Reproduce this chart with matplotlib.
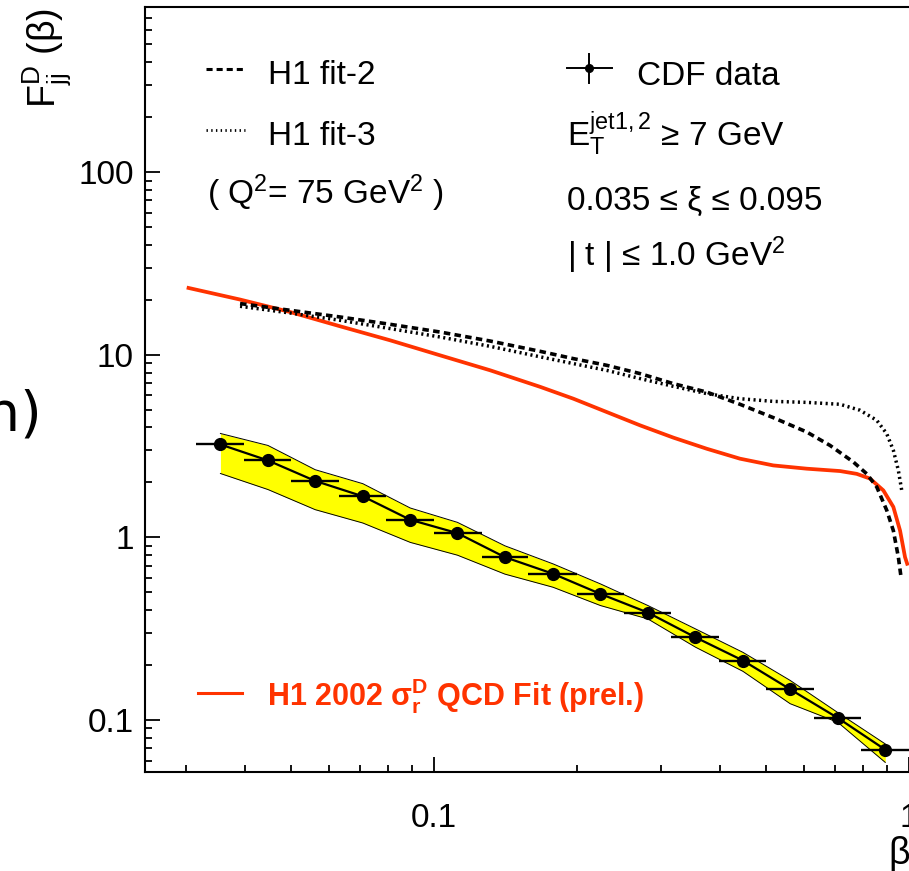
import matplotlib
matplotlib.use('Agg')
import matplotlib.pyplot as plt
import matplotlib.ticker as mticker
from matplotlib.lines import Line2D
import numpy as np

plt.rcParams['font.family'] = ['Liberation Sans', 'DejaVu Sans']
plt.rcParams['mathtext.fontset'] = 'custom'
plt.rcParams['mathtext.rm'] = 'Liberation Sans'
plt.rcParams['mathtext.it'] = 'Liberation Sans:italic'
plt.rcParams['mathtext.bf'] = 'Liberation Sans:bold'

# ---------------- data ----------------
# CDF data: beta bin centres, bin edges, values
cdf_beta = [0.0355, 0.0447, 0.0562, 0.0708, 0.0891, 0.112, 0.141, 0.178,
            0.224, 0.282, 0.355, 0.447, 0.562, 0.708, 0.891]
cdf_beta_lo = [0.0316, 0.0398, 0.0501, 0.0631, 0.0794, 0.100, 0.126, 0.158,
               0.200, 0.251, 0.316, 0.398, 0.501, 0.631, 0.794]
cdf_beta_hi = [0.0398, 0.0501, 0.0631, 0.0794, 0.100, 0.126, 0.158, 0.200,
               0.251, 0.316, 0.398, 0.501, 0.631, 0.794, 1.000]
cdf_val = [3.23, 2.64, 2.04, 1.68, 1.25, 1.056, 0.780, 0.633,
           0.491, 0.388, 0.284, 0.212, 0.1475, 0.1028, 0.0689]
band_hi = [3.71, 3.19, 2.35, 1.97, 1.45, 1.21, 0.90, 0.717,
           0.557, 0.424, 0.316, 0.235, 0.165, 0.110, 0.0741]
band_lo = [2.24, 1.83, 1.42, 1.20, 0.94, 0.80, 0.63, 0.534,
           0.424, 0.358, 0.251, 0.185, 0.123, 0.0973, 0.0587]

# H1 2002 QCD fit (red)
h1_2002_beta = [0.03015, 0.03905, 0.04975, 0.0634, 0.0808, 0.1029, 0.1312, 0.1672,
                0.1965, 0.2310, 0.2715, 0.3191, 0.3751, 0.4406, 0.5178, 0.6089,
                0.7157, 0.7760, 0.8278, 0.8829, 0.9267, 0.9574, 0.9808, 0.9938]
h1_2002_val = [23.35, 20.07, 17.16, 14.33, 12.01, 9.94, 8.23, 6.68,
               5.75, 4.86, 4.11, 3.52, 3.06, 2.70, 2.48, 2.38,
               2.31, 2.23, 2.10, 1.81, 1.47, 1.09, 0.780, 0.702]

# H1 fit-2 (dashed)
fit2_beta = [0.03905, 0.04975, 0.0634, 0.0808, 0.1029, 0.1312, 0.1672, 0.1965,
             0.2310, 0.2715, 0.3191, 0.3751, 0.4406, 0.5178, 0.6089, 0.6819,
             0.7633, 0.8147, 0.8551, 0.8974, 0.9268, 0.9495, 0.9620]
fit2_val = [19.08, 17.53, 16.11, 14.69, 13.33, 11.90, 10.45, 9.53,
            8.76, 7.89, 6.95, 6.25, 5.36, 4.53, 3.78, 3.19,
            2.59, 2.23, 1.89, 1.41, 1.09, 0.78, 0.606]

# H1 fit-3 (dotted)
fit3_beta = [0.03905, 0.04975, 0.0634, 0.0808, 0.1029, 0.1312, 0.1672, 0.1965,
             0.2310, 0.2715, 0.3191, 0.3751, 0.4406, 0.5178, 0.6089, 0.7157,
             0.7886, 0.8551, 0.8974, 0.9268, 0.9495, 0.9652]
fit3_val = [18.44, 16.94, 15.45, 13.92, 12.52, 11.13, 9.75, 8.95,
            8.22, 7.41, 6.72, 6.13, 5.75, 5.56, 5.49, 5.36,
            4.97, 4.38, 3.70, 3.00, 2.33, 1.81]

y_ticks = [0.1, 1, 10, 100]
x_ticks = [0.1, 1]

RED = '#ff3300'
YELLOW = '#ffff00'

# ---------------- figure ----------------
W, H = 909, 871
fig = plt.figure(figsize=(W / 100, H / 100), dpi=100)


def fx(px):
    return px / W


def fy(py):
    return 1 - py / H


ax = fig.add_axes([fx(145), fy(772), 783.7 / W, 764.8 / H])
ax.set_xscale('log')
ax.set_yscale('log')
ax.set_xlim(0.02463, 1.1)
ax.set_ylim(0.052, 800)

b = np.array(cdf_beta)
v = np.array(cdf_val)

ax.fill_between(b, band_lo, band_hi, color=YELLOW, lw=0, zorder=1)
ax.plot(b, band_hi, color='k', lw=0.7, zorder=2)
ax.plot(b, band_lo, color='k', lw=0.7, zorder=2)

ax.plot(h1_2002_beta, h1_2002_val, color=RED, lw=2.7, zorder=3,
        solid_capstyle='butt')
ax.plot(fit2_beta, fit2_val, color='k', lw=2.6, dashes=(1.8, 1.2), zorder=3,
        dash_capstyle='butt')
ax.plot(fit3_beta, fit3_val, color='k', lw=2.5, dashes=(0.6, 1.0), zorder=3,
        dash_capstyle='butt')

ax.plot(b, v, color='k', lw=1.6, zorder=4)
xerr = [b - np.array(cdf_beta_lo), np.array(cdf_beta_hi) - b]
ax.errorbar(b, v, xerr=xerr, fmt='o', color='k', ms=8.5, elinewidth=1.7,
            capsize=0, zorder=5)

# axes styling
for s in ['left', 'bottom', 'top']:
    ax.spines[s].set_linewidth(1.5)
ax.spines['right'].set_visible(False)
ax.tick_params(which='both', direction='in', top=False, right=False,
               width=1.3, labelsize=24)
ax.tick_params(which='major', length=10.5)
ax.tick_params(which='minor', length=5)
ax.tick_params(axis='y', pad=8)
ax.tick_params(axis='x', pad=22)
ax.yaxis.set_major_locator(mticker.FixedLocator(y_ticks))
ax.xaxis.set_major_locator(mticker.FixedLocator(x_ticks))
fmt = mticker.FuncFormatter(lambda t, p: f'{t:g}')
ax.yaxis.set_major_formatter(fmt)
ax.xaxis.set_major_formatter(fmt)
ax.xaxis.set_minor_locator(mticker.LogLocator(base=10, subs=np.arange(2, 10)))
ax.yaxis.set_minor_locator(mticker.LogLocator(base=10, subs=np.arange(2, 10)))
ax.xaxis.set_minor_formatter(mticker.NullFormatter())
ax.yaxis.set_minor_formatter(mticker.NullFormatter())

# ---------------- legend / annotations ----------------
FS = 24
fig.add_artist(Line2D([fx(206), fx(243)], [fy(69), fy(69)], color='k', lw=2.2,
                      dashes=(2.0, 1.3), dash_capstyle='butt'))
fig.text(fx(268), fy(84), 'H1 fit-2', fontsize=FS, ha='left', va='baseline')
fig.add_artist(Line2D([fx(206), fx(245)], [fy(130), fy(130)], color='k', lw=2.0,
                      dashes=(0.5, 1.2), dash_capstyle='butt'))
fig.text(fx(268), fy(145), 'H1 fit-3', fontsize=FS, ha='left', va='baseline')
fig.text(fx(207), fy(204), r'( Q$^\mathrm{2}$= 75 GeV$^\mathrm{2}$ )', fontsize=FS,
         ha='left', va='baseline')

fig.add_artist(Line2D([fx(567), fx(612)], [fy(68), fy(68)], color='k', lw=1.4))
fig.add_artist(Line2D([fx(589), fx(589)], [fy(54), fy(83)], color='k', lw=1.4))
fig.add_artist(Line2D([fx(589)], [fy(68)], color='k', marker='o', ms=5.5, lw=0))
fig.text(fx(637), fy(85), 'CDF data', fontsize=FS, ha='left', va='baseline')
fig.text(fx(567), fy(146), r'$\mathrm{E}_\mathrm{T}^\mathrm{jet1,2}$ ≥ 7 GeV',
         fontsize=FS, ha='left', va='baseline')
fig.text(fx(567), fy(210), '0.035 ≤ ξ ≤ 0.095', fontsize=FS, ha='left',
         va='baseline')
fig.text(fx(567), fy(266), r'| t | ≤ 1.0 GeV$^\mathrm{2}$', fontsize=FS,
         ha='left', va='baseline')

fig.add_artist(Line2D([fx(198), fx(242)], [fy(693), fy(693)], color=RED, lw=2.2))
fig.text(fx(267), fy(705), r'H1 2002 $\mathbf{σ}_\mathbf{r}^\mathbf{D}$ QCD Fit (prel.)',
         fontsize=22, fontweight='bold', color=RED, ha='left', va='baseline')

# axis titles
fig.text(fx(47), fy(8), r'$\mathrm{F}_\mathrm{jj}^\mathrm{D}$ (β)', fontsize=27,
         rotation=90, ha='center', va='top')
fig.text(fx(888), fy(836), 'β', fontsize=27, ha='left', va='top')

# fragment of a neighbouring label cut by the frame
fig.text(fx(42), fy(415), 'n)', fontsize=40, ha='right', va='center',
         family=['DejaVu Sans'])

fig.savefig('out.png', dpi=100)
